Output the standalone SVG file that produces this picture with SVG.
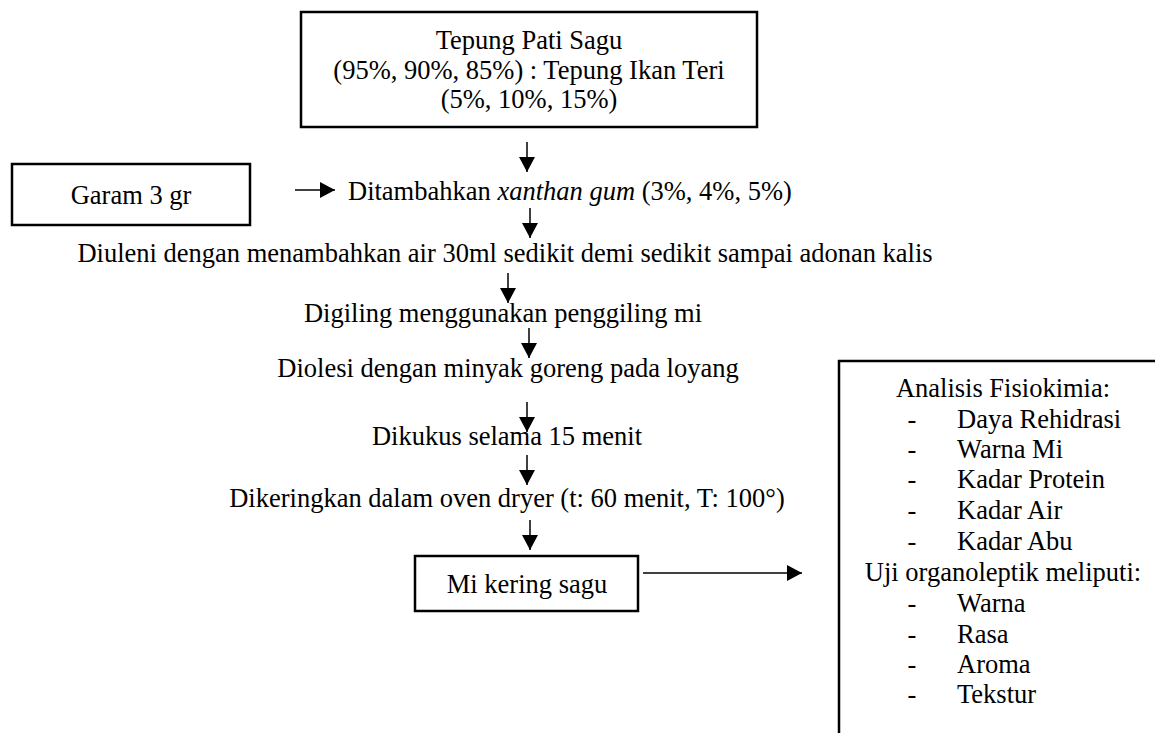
<svg xmlns="http://www.w3.org/2000/svg" width="1155" height="733" viewBox="0 0 1155 733">
<style>
text{font-family:"Liberation Serif","Times New Roman",serif;font-size:26.5px;fill:#000}
.c{text-anchor:middle}
.box{fill:#fff;stroke:#000;stroke-width:2.5}
.ln{stroke:#000;stroke-width:1.5;fill:none}
</style>
<defs>
<marker id="ah" markerUnits="userSpaceOnUse" markerWidth="17" markerHeight="17" refX="15" refY="8" orient="auto">
<path d="M0,0 L15,8 L0,16 z" fill="#000"/>
</marker>
</defs>
<rect width="1155" height="733" fill="#fff"/>
<g id="n-bahan">
<rect class="box" x="301" y="12" width="456" height="115"/>
<text class="c" x="529" y="49">Tepung Pati Sagu</text>
<text class="c" x="529" y="79">(95%, 90%, 85%) : Tepung Ikan Teri</text>
<text class="c" x="529" y="108">(5%, 10%, 15%)</text>
</g>
<g id="n-garam">
<rect class="box" x="12" y="164" width="238" height="61"/>
<text class="c" x="131" y="204">Garam 3 gr</text>
</g>
<g id="n-xanthan">
<text x="348" y="200">Ditambahkan <tspan font-style="italic">xanthan gum</tspan> (3%, 4%, 5%)</text>
</g>
<g id="n-uleni">
<text class="c" x="505" y="262">Diuleni dengan menambahkan air 30ml sedikit demi sedikit sampai adonan kalis</text>
</g>
<g id="n-giling">
<text class="c" x="503" y="322">Digiling menggunakan penggiling mi</text>
</g>
<g id="n-oles">
<text class="c" x="508" y="377">Diolesi dengan minyak goreng pada loyang</text>
</g>
<g id="n-kukus">
<text class="c" x="507" y="445">Dikukus selama 15 menit</text>
</g>
<g id="n-kering">
<text class="c" x="507" y="507">Dikeringkan dalam oven dryer (t: 60 menit, T: 100°)</text>
</g>
<g id="n-mi">
<rect class="box" x="415" y="556" width="223" height="55"/>
<text class="c" x="527" y="593">Mi kering sagu</text>
</g>
<g id="n-analisis">
<path d="M839,733 V361 H1156" fill="none" stroke="#000" stroke-width="2.5"/>
<text class="c" x="1003" y="397">Analisis Fisiokimia:</text>
<text class="c" x="912" y="428">-</text><text x="957" y="428">Daya Rehidrasi</text>
<text class="c" x="912" y="458">-</text><text x="957" y="458">Warna Mi</text>
<text class="c" x="912" y="488">-</text><text x="957" y="488">Kadar Protein</text>
<text class="c" x="912" y="519">-</text><text x="957" y="519">Kadar Air</text>
<text class="c" x="912" y="550">-</text><text x="957" y="550">Kadar Abu</text>
<text class="c" x="1003" y="581">Uji organoleptik meliputi:</text>
<text class="c" x="912" y="612">-</text><text x="957" y="612">Warna</text>
<text class="c" x="912" y="643">-</text><text x="957" y="643">Rasa</text>
<text class="c" x="912" y="673">-</text><text x="957" y="673">Aroma</text>
<text class="c" x="912" y="703">-</text><text x="957" y="703">Tekstur</text>
</g>
<g id="connectors">
<line class="ln" x1="527" y1="142" x2="527" y2="172" marker-end="url(#ah)"/>
<line class="ln" x1="295" y1="190" x2="335" y2="190" marker-end="url(#ah)"/>
<line class="ln" x1="530" y1="208" x2="530" y2="238" marker-end="url(#ah)"/>
<line class="ln" x1="508" y1="273" x2="508" y2="303" marker-end="url(#ah)"/>
<line class="ln" x1="529" y1="328" x2="529" y2="358" marker-end="url(#ah)"/>
<line class="ln" x1="527" y1="402" x2="527" y2="432" marker-end="url(#ah)"/>
<line class="ln" x1="527" y1="455" x2="527" y2="485" marker-end="url(#ah)"/>
<line class="ln" x1="530" y1="520" x2="530" y2="550" marker-end="url(#ah)"/>
<line class="ln" x1="643" y1="573" x2="802" y2="573" marker-end="url(#ah)"/>
</g>
</svg>
